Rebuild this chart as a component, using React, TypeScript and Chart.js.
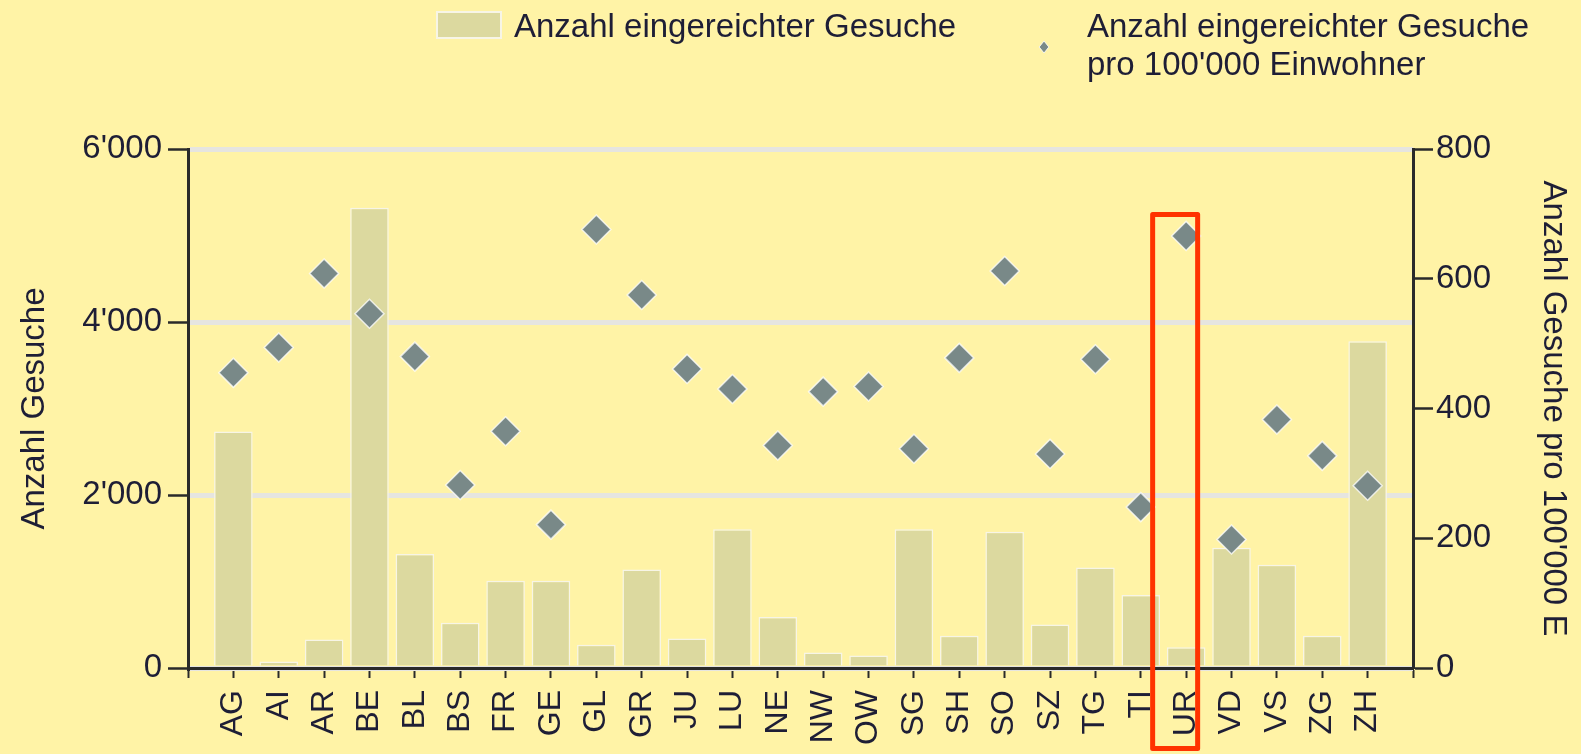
import React, { useEffect, useRef } from "react";
import { Chart, registerables } from "chart.js";

Chart.register(...registerables);

// ---- data ----
const categories = [
  "AG", "AI", "AR", "BE", "BL", "BS", "FR", "GE", "GL", "GR", "JU", "LU", "NE",
  "NW", "OW", "SG", "SH", "SO", "SZ", "TG", "TI", "UR", "VD", "VS", "ZG", "ZH",
];
const gesuche = [
  2735, 75, 330, 5320, 1317, 522, 1010, 1008, 269, 1139, 340, 1604, 590,
  180, 145, 1604, 373, 1576, 503, 1162, 845, 241, 1389, 1195, 373, 3778,
];
const gesuchePro100k = [
  455, 494, 608, 546, 480, 282, 365, 221, 676, 575, 461, 430, 343,
  426, 434, 338, 478, 612, 330, 476, 248, 666, 198, 383, 327, 281,
];
const leftTicks = [0, 2000, 4000, 6000];
const rightTicks = [0, 200, 400, 600, 800];
const barLabel = "Anzahl eingereichter Gesuche";
const pointLabelLines = ["Anzahl eingereichter Gesuche", "pro 100'000 Einwohner"];
const leftTitle = "Anzahl Gesuche";
const rightTitle = "Anzahl Gesuche pro 100'000 E";
const highlighted = "UR";

// ---- styles ----
const BG = "#fff3a6";
const BAR = "#dcd99f";
const BAR_BORDER = "#f7f5e6";
const POINT = "#798988";
const TEXT = "#1e1e36";
const AXIS = "#2a2a2a";
const GRID = "#e6e5e0";
const FONT = "'Liberation Sans', Arial, sans-serif";

const fmt = (v: number) => String(v).replace(/\B(?=(\d{3})+(?!\d))/g, "'");

const paddedLabels = ["", ...categories, ""];
const paddedBars = [null, ...gesuche, null];
const paddedPoints = [null, ...gesuchePro100k, null];

const overlayPlugin = {
  id: "overlay",
  afterDraw(chart: any) {
    const ctx = chart.ctx;
    const x = chart.scales.x;
    ctx.save();
    // legend item 1: box
    ctx.fillStyle = BAR;
    ctx.fillRect(437, 12, 64, 26);
    ctx.strokeStyle = BAR_BORDER;
    ctx.lineWidth = 2;
    ctx.strokeRect(437, 12, 64, 26);
    ctx.fillStyle = TEXT;
    ctx.font = `33px ${FONT}`;
    ctx.textBaseline = "alphabetic";
    ctx.textAlign = "left";
    ctx.fillText(barLabel, 514, 37);
    // legend item 2: diamond
    const cx = 1044, cy = 47, r = 6;
    ctx.beginPath();
    ctx.moveTo(cx, cy - r);
    ctx.lineTo(cx + r * 0.8, cy);
    ctx.lineTo(cx, cy + r);
    ctx.lineTo(cx - r * 0.8, cy);
    ctx.closePath();
    ctx.fillStyle = POINT;
    ctx.fill();
    ctx.strokeStyle = "rgba(255,255,255,0.8)";
    ctx.lineWidth = 1;
    ctx.stroke();
    ctx.fillStyle = TEXT;
    ctx.fillText(pointLabelLines[0], 1087, 37);
    ctx.fillText(pointLabelLines[1], 1087, 75);
    // highlight box
    const idx = paddedLabels.indexOf(highlighted);
    const px = x.getPixelForValue(idx);
    ctx.strokeStyle = "#ff3300";
    ctx.lineWidth = 5;
    ctx.lineJoin = "round";
    ctx.strokeRect(px - 33.5, 214.5, 45, 534);
    ctx.restore();
  },
};

export default function App() {
  const ref = useRef<HTMLCanvasElement | null>(null);

  useEffect(() => {
    document.body.style.margin = "0";
    document.body.style.background = BG;
    const canvas = ref.current;
    if (!canvas) return;
    const tickFont = { family: FONT, size: 33 };
    const chart = new Chart(canvas, {
      type: "bar",
      data: {
        labels: paddedLabels,
        datasets: [
          {
            type: "line",
            label: pointLabelLines.join(" "),
            data: paddedPoints as any,
            yAxisID: "y1",
            showLine: false,
            pointStyle: "rectRot",
            pointRadius: 14.5,
            pointBackgroundColor: POINT,
            pointBorderColor: "rgba(255,255,255,0.75)",
            pointBorderWidth: 1.5,
            order: 0,
          } as any,
          {
            type: "bar",
            label: barLabel,
            data: paddedBars as any,
            yAxisID: "y",
            backgroundColor: BAR,
            borderColor: BAR_BORDER,
            borderWidth: 1.5,
            barPercentage: 0.85,
            categoryPercentage: 1,
            order: 1,
          },
        ],
      },
      options: {
        animation: false,
        responsive: true,
        maintainAspectRatio: false,
        layout: { padding: { top: 149, left: 0, right: 0, bottom: 0 } },
        plugins: {
          legend: { display: false },
          tooltip: { enabled: false },
        },
        scales: {
          x: {
            type: "category",
            offset: false,
            grid: {
              display: true,
              drawOnChartArea: false,
              offset: false,
              tickLength: 10,
              tickColor: AXIS,
              tickWidth: 2,
            },
            border: { display: true, color: AXIS, width: 3 },
            ticks: {
              autoSkip: false,
              minRotation: 90,
              maxRotation: 90,
              padding: 12,
              color: TEXT,
              font: { family: FONT, size: 32 },
            },
            afterFit: (s: any) => {
              s.height = 86;
            },
          },
          y: {
            position: "left",
            min: 0,
            max: 6000,
            afterBuildTicks: (s: any) => {
              s.ticks = leftTicks.map((v) => ({ value: v }));
            },
            grid: {
              color: GRID,
              lineWidth: 5,
              tickLength: 20,
              tickColor: AXIS,
              tickWidth: 2.5,
            },
            border: { display: true, color: AXIS, width: 3 },
            ticks: {
              padding: 6,
              color: TEXT,
              font: tickFont,
              callback: (v: any) => fmt(Number(v)),
            },
            title: {
              display: true,
              text: leftTitle,
              color: TEXT,
              font: { family: FONT, size: 33, lineHeight: 1.2 },
              padding: { top: 15, bottom: 0 },
            },
            afterFit: (s: any) => {
              s.width = 188;
            },
          },
          y1: {
            position: "right",
            min: 0,
            max: 800,
            afterBuildTicks: (s: any) => {
              s.ticks = rightTicks.map((v) => ({ value: v }));
            },
            grid: {
              drawOnChartArea: false,
              tickLength: 20,
              tickColor: AXIS,
              tickWidth: 2.5,
            },
            border: { display: true, color: AXIS, width: 3 },
            ticks: {
              padding: 3,
              color: TEXT,
              font: tickFont,
              callback: (v: any) => fmt(Number(v)),
            },
            title: {
              display: true,
              text: rightTitle,
              color: TEXT,
              font: { family: FONT, size: 33, lineHeight: 1.2 },
              padding: { top: 8, bottom: 0 },
            },
            afterFit: (s: any) => {
              s.width = 168;
            },
          },
        },
      } as any,
      plugins: [overlayPlugin],
    });
    return () => chart.destroy();
  }, []);

  return (
    <div
      style={{
        position: "fixed",
        left: 0,
        top: 0,
        width: 1581,
        height: 754,
        background: BG,
      }}
    >
      <canvas ref={ref} />
    </div>
  );
}
